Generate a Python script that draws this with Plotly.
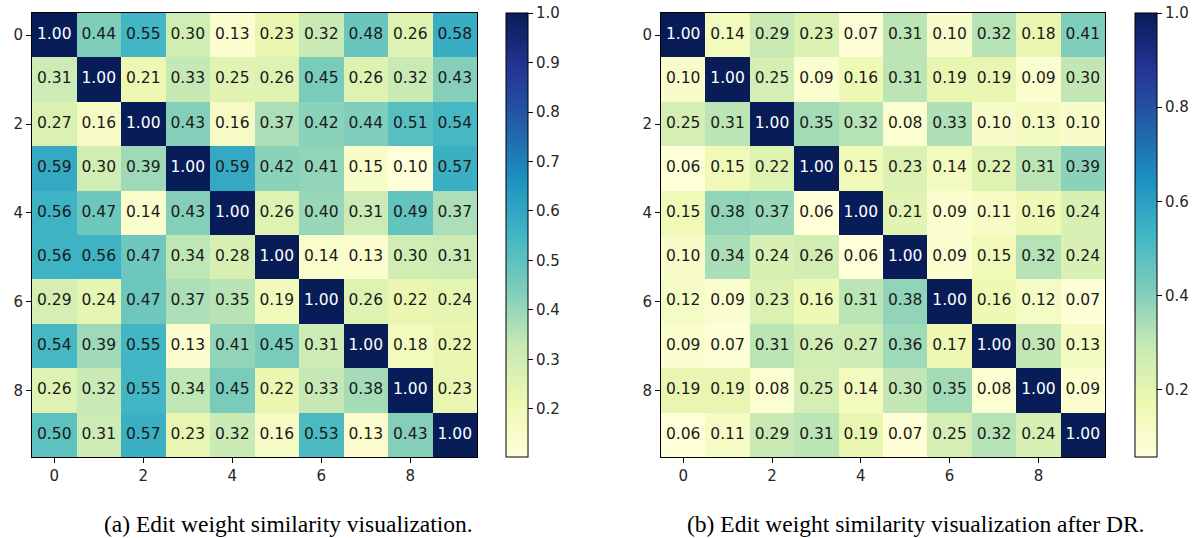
import numpy as np
import plotly.graph_objects as go

# ---------------- data ----------------
labels = list(range(10))
tick_vals = [0, 2, 4, 6, 8]
cb_ticks_before = [0.2, 0.3, 0.4, 0.5, 0.6, 0.7, 0.8, 0.9, 1.0]
cb_ticks_after = [0.2, 0.4, 0.6, 0.8, 1.0]

sim_before = [
    [1.00, 0.44, 0.55, 0.30, 0.13, 0.23, 0.32, 0.48, 0.26, 0.58],
    [0.31, 1.00, 0.21, 0.33, 0.25, 0.26, 0.45, 0.26, 0.32, 0.43],
    [0.27, 0.16, 1.00, 0.43, 0.16, 0.37, 0.42, 0.44, 0.51, 0.54],
    [0.59, 0.30, 0.39, 1.00, 0.59, 0.42, 0.41, 0.15, 0.10, 0.57],
    [0.56, 0.47, 0.14, 0.43, 1.00, 0.26, 0.40, 0.31, 0.49, 0.37],
    [0.56, 0.56, 0.47, 0.34, 0.28, 1.00, 0.14, 0.13, 0.30, 0.31],
    [0.29, 0.24, 0.47, 0.37, 0.35, 0.19, 1.00, 0.26, 0.22, 0.24],
    [0.54, 0.39, 0.55, 0.13, 0.41, 0.45, 0.31, 1.00, 0.18, 0.22],
    [0.26, 0.32, 0.55, 0.34, 0.45, 0.22, 0.33, 0.38, 1.00, 0.23],
    [0.50, 0.31, 0.57, 0.23, 0.32, 0.16, 0.53, 0.13, 0.43, 1.00],
]

sim_after = [
    [1.00, 0.14, 0.29, 0.23, 0.07, 0.31, 0.10, 0.32, 0.18, 0.41],
    [0.10, 1.00, 0.25, 0.09, 0.16, 0.31, 0.19, 0.19, 0.09, 0.30],
    [0.25, 0.31, 1.00, 0.35, 0.32, 0.08, 0.33, 0.10, 0.13, 0.10],
    [0.06, 0.15, 0.22, 1.00, 0.15, 0.23, 0.14, 0.22, 0.31, 0.39],
    [0.15, 0.38, 0.37, 0.06, 1.00, 0.21, 0.09, 0.11, 0.16, 0.24],
    [0.10, 0.34, 0.24, 0.26, 0.06, 1.00, 0.09, 0.15, 0.32, 0.24],
    [0.12, 0.09, 0.23, 0.16, 0.31, 0.38, 1.00, 0.16, 0.12, 0.07],
    [0.09, 0.07, 0.31, 0.26, 0.27, 0.36, 0.17, 1.00, 0.30, 0.13],
    [0.19, 0.19, 0.08, 0.25, 0.14, 0.30, 0.35, 0.08, 1.00, 0.09],
    [0.06, 0.11, 0.29, 0.31, 0.19, 0.07, 0.25, 0.32, 0.24, 1.00],
]

range_before = [0.103, 1.0]
range_after = [0.057, 1.0]

captions = [
    "(a) Edit weight similarity visualization.",
    "(b) Edit weight similarity visualization after DR.",
]

ylgnbu = ["#ffffd9", "#edf8b1", "#c7e9b4", "#7fcdbb", "#41b6c4",
          "#1d91c0", "#225ea8", "#253494", "#081d58"]
colorscale = [[i / (len(ylgnbu) - 1), c] for i, c in enumerate(ylgnbu)]

# ---------------- layout geometry (pixels) ----------------
# the page's body margin is removed (post_script below), so the figure
# sits at the top-left corner of the window
W, H = 1203, 538
def px_x(v):
    return v / W
def px_y(v):
    return 1 - v / H

FONT = "DejaVu Sans"
fig = go.Figure()

panels = [
    dict(z=sim_before, rng=range_before, x0=32, x1=477, cb_x=506,
         cb_ticks=cb_ticks_before, xa="x", ya="y", ca="coloraxis"),
    dict(z=sim_after, rng=range_after, x0=661, x1=1105, cb_x=1135,
         cb_ticks=cb_ticks_after, xa="x2", ya="y2", ca="coloraxis2"),
]

top, bottom = 13, 457

for i, p in enumerate(panels):
    z = np.array(p["z"])
    fig.add_trace(go.Heatmap(
        z=z, x=labels, y=labels, coloraxis=p["ca"],
        xaxis=p["xa"], yaxis=p["ya"], hoverinfo="skip",
    ))
    xx, yy = np.meshgrid(labels, labels)
    txt = [f"{v:.2f}" for v in z.ravel()]
    cols = ["white" if v > 0.7 else "#1a1a1a" for v in z.ravel()]
    fig.add_trace(go.Scatter(
        x=xx.ravel(), y=yy.ravel(), mode="text", text=txt,
        textfont=dict(family=FONT, size=15.5, color=cols),
        xaxis=p["xa"], yaxis=p["ya"], hoverinfo="skip", showlegend=False,
    ))

    axis_common = dict(
        tickvals=tick_vals, ticks="outside", ticklen=5, tickwidth=1,
        tickcolor="black", showgrid=False, zeroline=False,
        showline=True, linecolor="black", linewidth=1, mirror=True,
        tickfont=dict(family=FONT, size=15, color="#262626"),
    )
    suffix = "" if i == 0 else "2"
    fig.layout["xaxis" + suffix] = dict(
        axis_common, domain=[px_x(p["x0"]), px_x(p["x1"])],
        range=[-0.5, 9.5], anchor="y" + suffix,
    )
    fig.layout["yaxis" + suffix] = dict(
        axis_common, domain=[px_y(bottom), px_y(top)],
        range=[9.5, -0.5], anchor="x" + suffix,
    )
    fig.layout[p["ca"]] = dict(
        colorscale=colorscale, cmin=p["rng"][0], cmax=p["rng"][1],
        colorbar=dict(
            x=px_x(p["cb_x"]), xanchor="left", xpad=0, ypad=0,
            y=px_y((top + bottom) / 2), yanchor="middle",
            len=bottom - top, lenmode="pixels",
            thickness=22, thicknessmode="pixels",
            outlinewidth=1, outlinecolor="black",
            ticks="outside", ticklen=5, tickcolor="black",
            tickvals=p["cb_ticks"],
            ticktext=[f"{t:.1f}" for t in p["cb_ticks"]],
            ticklabeloverflow="allow",
            tickfont=dict(family=FONT, size=15, color="#262626"),
        ),
    )

cap_centers = [288, 916]
for cx, cap in zip(cap_centers, captions):
    fig.add_annotation(
        x=px_x(cx), y=px_y(524), xref="paper", yref="paper",
        text=cap, showarrow=False, xanchor="center", yanchor="middle",
        font=dict(family="Liberation Serif", size=23.5, color="black"),
    )

fig.update_layout(
    width=W, height=H, margin=dict(l=0, r=0, t=0, b=0),
    paper_bgcolor="white", plot_bgcolor="white", showlegend=False,
)

fig.write_html(
    "out.html",
    config={"displayModeBar": False},
    post_script="document.body.style.margin='0';document.body.style.overflow='hidden';",
)
